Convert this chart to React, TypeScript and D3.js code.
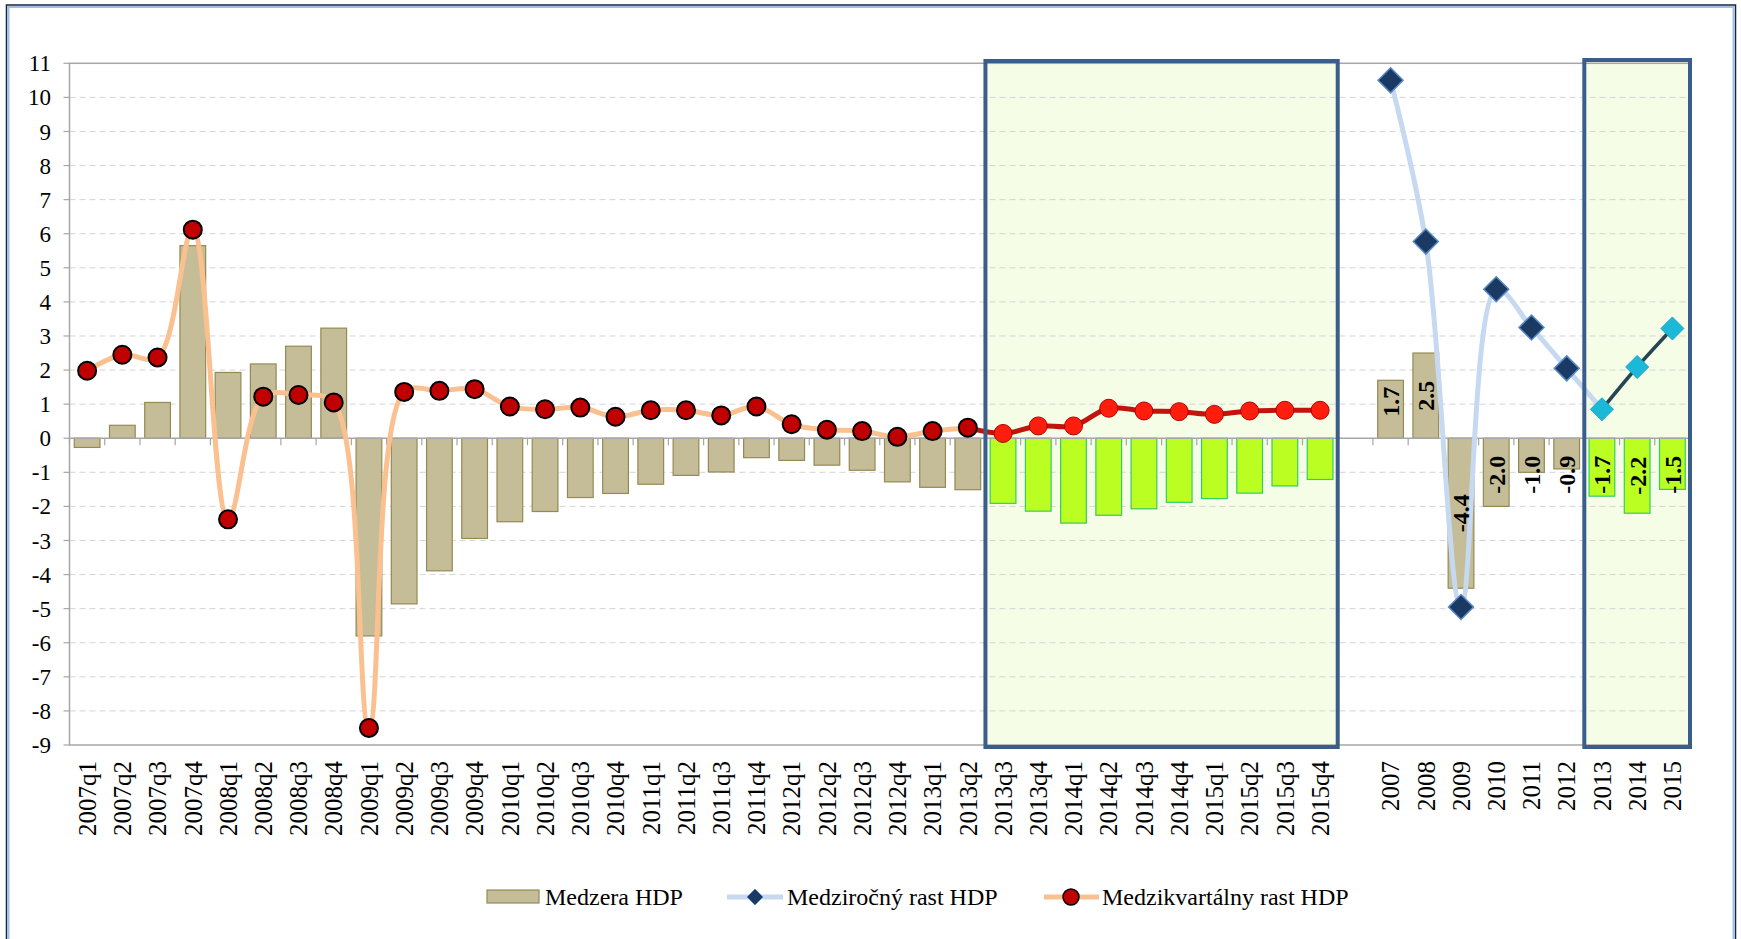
import * as d3 from "d3"

// Medzera HDP (quarterly output gap), 2007q1 - 2015q4
const quarters = [
  "2007q1", "2007q2", "2007q3", "2007q4",
  "2008q1", "2008q2", "2008q3", "2008q4",
  "2009q1", "2009q2", "2009q3", "2009q4",
  "2010q1", "2010q2", "2010q3", "2010q4",
  "2011q1", "2011q2", "2011q3", "2011q4",
  "2012q1", "2012q2", "2012q3", "2012q4",
  "2013q1", "2013q2", "2013q3", "2013q4",
  "2014q1", "2014q2", "2014q3", "2014q4",
  "2015q1", "2015q2", "2015q3", "2015q4",
]
const quarterGap = [
  -0.27, 0.38, 1.05, 5.65,
  1.93, 2.18, 2.7, 3.23,
  -5.8, -4.86, -3.89, -2.94,
  -2.45, -2.15, -1.74, -1.62,
  -1.35, -1.09, -0.99, -0.57,
  -0.65, -0.79, -0.94, -1.28,
  -1.44, -1.51, -1.91, -2.14,
  -2.49, -2.26, -2.07, -1.88,
  -1.77, -1.61, -1.4, -1.21,
]
// Medzikvartálny rast HDP
const quarterGrowth = [
  1.98, 2.45, 2.37, 6.12,
  -2.38, 1.22, 1.27, 1.05,
  -8.5, 1.36, 1.39, 1.44,
  0.93, 0.85, 0.9, 0.63,
  0.82, 0.82, 0.67, 0.93,
  0.41, 0.25, 0.21, 0.04,
  0.21, 0.31, 0.14, 0.36,
  0.36, 0.88, 0.8, 0.78,
  0.7, 0.8, 0.82, 0.82,
]
const years = ["2007", "2008", "2009", "2010", "2011", "2012", "2013", "2014", "2015"]
const yearGap = [1.7, 2.5, -4.4, -2.0, -1.0, -0.9, -1.7, -2.2, -1.5]
// Medziročný rast HDP
const yearGrowth = [10.5, 5.77, -4.95, 4.37, 3.25, 2.05, 0.85, 2.09, 3.22]

const firstForecastQuarter = 26 // 2013q3
const firstForecastYear = 6 // 2013
const yTicks = d3.range(-9, 12)

const W = 1741
const H = 939
const FONT = "'Liberation Serif', 'Times New Roman', serif"

const diamond = (r: number) => `M0,${-r}L${r},0L0,${r}L${-r},0Z`

export default function App() {
  const categories = [...quarters, "gap", ...years]
  const x = d3
    .scaleBand()
    .domain(categories)
    .range([69.5, 1690])
    .paddingInner(0.27)
    .paddingOuter(0.135)
  const y = d3.scaleLinear().domain([-9, 11]).range([745, 63.3])

  const bw = x.bandwidth()
  const step = x.step()
  const off = (step - bw) / 2
  const cx = (c: string) => (x(c) || 0) + bw / 2
  const y0 = y(0)

  const line = d3
    .line<[number, number]>()
    .x((d) => d[0])
    .y((d) => d[1])
    .curve(d3.curveCatmullRom.alpha(0.5))

  const qPts: [number, number][] = quarters.map((q, i) => [cx(q), y(quarterGrowth[i])])
  const yPts: [number, number][] = years.map((yr, i) => [cx(yr), y(yearGrowth[i])])

  const box1 = [(x(quarters[firstForecastQuarter]) || 0) - off, (x(quarters[35]) || 0) + bw + off]
  const box2 = [(x(years[firstForecastYear]) || 0) - off, (x(years[8]) || 0) + bw + off]

  const plotL = 69.5
  const plotR = 1690

  return (
    <div style={{ position: "absolute", left: 0, top: 0 }}>
      <svg width={W} height={H} style={{ display: "block", fontFamily: FONT }}>
        <rect x={0} y={0} width={W} height={H} fill="#fff" />
        {/* outer frame */}
        <rect x={6.5} y={5} width={1729} height={960} fill="none" stroke="#1c2236" strokeWidth={1.5} />
        <rect x={8.5} y={7} width={1725} height={956} fill="none" stroke="#9cc0e8" strokeWidth={2} />

        {/* forecast boxes fill */}
        <rect x={box1[0]} y={61} width={box1[1] - box1[0]} height={686} fill="#f5fde7" />
        <rect x={box2[0]} y={60} width={box2[1] - box2[0]} height={687} fill="#f5fde7" />

        {/* grid */}
        {yTicks
          .filter((t) => t !== 0 && t !== 11 && t !== -9)
          .map((t) => (
            <line key={t} x1={plotL} x2={plotR} y1={y(t)} y2={y(t)} stroke="#d4d4d4" strokeWidth={1} strokeDasharray="6,4" />
          ))}
        {/* plot border */}
        <rect x={plotL} y={y(11)} width={plotR - plotL} height={y(-9) - y(11)} fill="none" stroke="#a6a6a6" strokeWidth={1.5} />

        {/* y axis ticks + labels */}
        {yTicks.map((t) => (
          <g key={t}>
            <line x1={plotL - 6} x2={plotL} y1={y(t)} y2={y(t)} stroke="#a6a6a6" strokeWidth={1.2} />
            <text x={51} y={y(t)} dy="0.35em" textAnchor="end" fontSize={23} fill="#000">
              {t}
            </text>
          </g>
        ))}

        {/* bars quarterly */}
        {quarters.map((q, i) => {
          const v = quarterGap[i]
          const fc = i >= firstForecastQuarter
          return (
            <rect
              key={q}
              x={x(q)}
              y={Math.min(y(v), y0)}
              width={bw}
              height={Math.abs(y(v) - y0)}
              fill={fc ? "#bbff22" : "#c4bd97"}
              stroke={fc ? "#33cc66" : "#948a54"}
              strokeWidth={1.2}
            />
          )
        })}
        {/* bars annual */}
        {years.map((yr, i) => {
          const v = yearGap[i]
          const fc = i >= firstForecastYear
          return (
            <rect
              key={yr}
              x={x(yr)}
              y={Math.min(y(v), y0)}
              width={bw}
              height={Math.abs(y(v) - y0)}
              fill={fc ? "#bbff22" : "#c4bd97"}
              stroke={fc ? "#33cc66" : "#948a54"}
              strokeWidth={1.2}
            />
          )
        })}

        {/* zero axis */}
        <line x1={plotL} x2={plotR} y1={y0} y2={y0} stroke="#a6a6a6" strokeWidth={1.5} />
        {d3.range(categories.length + 1).map((i) => (
          <line key={i} x1={plotL + i * step} x2={plotL + i * step} y1={y0} y2={y0 + 7} stroke="#a6a6a6" strokeWidth={1.2} />
        ))}

        {/* quarterly growth line */}
        <path d={line(qPts.slice(0, firstForecastQuarter)) || ""} fill="none" stroke="#fac090" strokeWidth={5} />
        <path d={line(qPts.slice(firstForecastQuarter - 1)) || ""} fill="none" stroke="#c0140c" strokeWidth={5} />

        {/* annual growth line */}
        <path d={line(yPts.slice(0, firstForecastYear + 1)) || ""} fill="none" stroke="#c6d9f1" strokeWidth={5} />
        <path d={line(yPts.slice(firstForecastYear)) || ""} fill="none" stroke="#254555" strokeWidth={3.5} />

        {/* forecast box borders */}
        <rect x={box1[0]} y={61} width={box1[1] - box1[0]} height={686} fill="none" stroke="#3b5d8b" strokeWidth={4} />
        <rect x={box2[0]} y={60} width={box2[1] - box2[0]} height={687} fill="none" stroke="#3b5d8b" strokeWidth={4} />

        {/* markers */}
        {qPts.map((p, i) =>
          i < firstForecastQuarter ? (
            <circle key={i} cx={p[0]} cy={p[1]} r={9} fill="#c00000" stroke="#000" strokeWidth={2} />
          ) : (
            <circle key={i} cx={p[0]} cy={p[1]} r={9} fill="#ff1e0e" stroke="#b00000" strokeWidth={1} />
          )
        )}
        {yPts.map((p, i) =>
          i < firstForecastYear ? (
            <path key={i} transform={`translate(${p[0]},${p[1]})`} d={diamond(12.5)} fill="#1b3a63" stroke="#5a8ac6" strokeWidth={1.5} />
          ) : (
            <path key={i} transform={`translate(${p[0]},${p[1]})`} d={diamond(11.5)} fill="#1cb8d8" stroke="#17a6c6" strokeWidth={1} />
          )
        )}

        {/* annual data labels */}
        {years.map((yr, i) => {
          const v = yearGap[i]
          const pos = Math.sign(v) * Math.max(Math.abs(v) / 2, 1.07)
          return (
            <text
              key={yr}
              transform={`translate(${cx(yr)},${y(pos)}) rotate(-90)`}
              dy="0.35em"
              textAnchor="middle"
              fontSize={24}
              fontWeight="bold"
              fill="#000"
            >
              {v.toFixed(1)}
            </text>
          )
        })}

        {/* x labels */}
        {[...quarters, ...years].map((c) => (
          <text
            key={c}
            transform={`translate(${cx(c)},761) rotate(-90)`}
            dy="0.35em"
            textAnchor="end"
            fontSize={25}
            fill="#000"
          >
            {c}
          </text>
        ))}

        {/* legend */}
        <g fontSize={24} fill="#000">
          <rect x={487} y={890} width={52} height={13} fill="#c4bd97" stroke="#948a54" strokeWidth={1.2} />
          <text x={545} y={897} dy="0.35em">Medzera HDP</text>
          <line x1={727} x2={783} y1={897} y2={897} stroke="#c6d9f1" strokeWidth={5} />
          <path transform="translate(755,897)" d={diamond(8)} fill="#1b3a63" stroke="#5a8ac6" strokeWidth={1} />
          <text x={787} y={897} dy="0.35em">Medziročný rast HDP</text>
          <line x1={1044} x2={1099} y1={897} y2={897} stroke="#fac090" strokeWidth={5} />
          <circle cx={1071} cy={897} r={8} fill="#c00000" stroke="#000" strokeWidth={1.5} />
          <text x={1102} y={897} dy="0.35em">Medzikvartálny rast HDP</text>
        </g>
      </svg>
    </div>
  )
}
